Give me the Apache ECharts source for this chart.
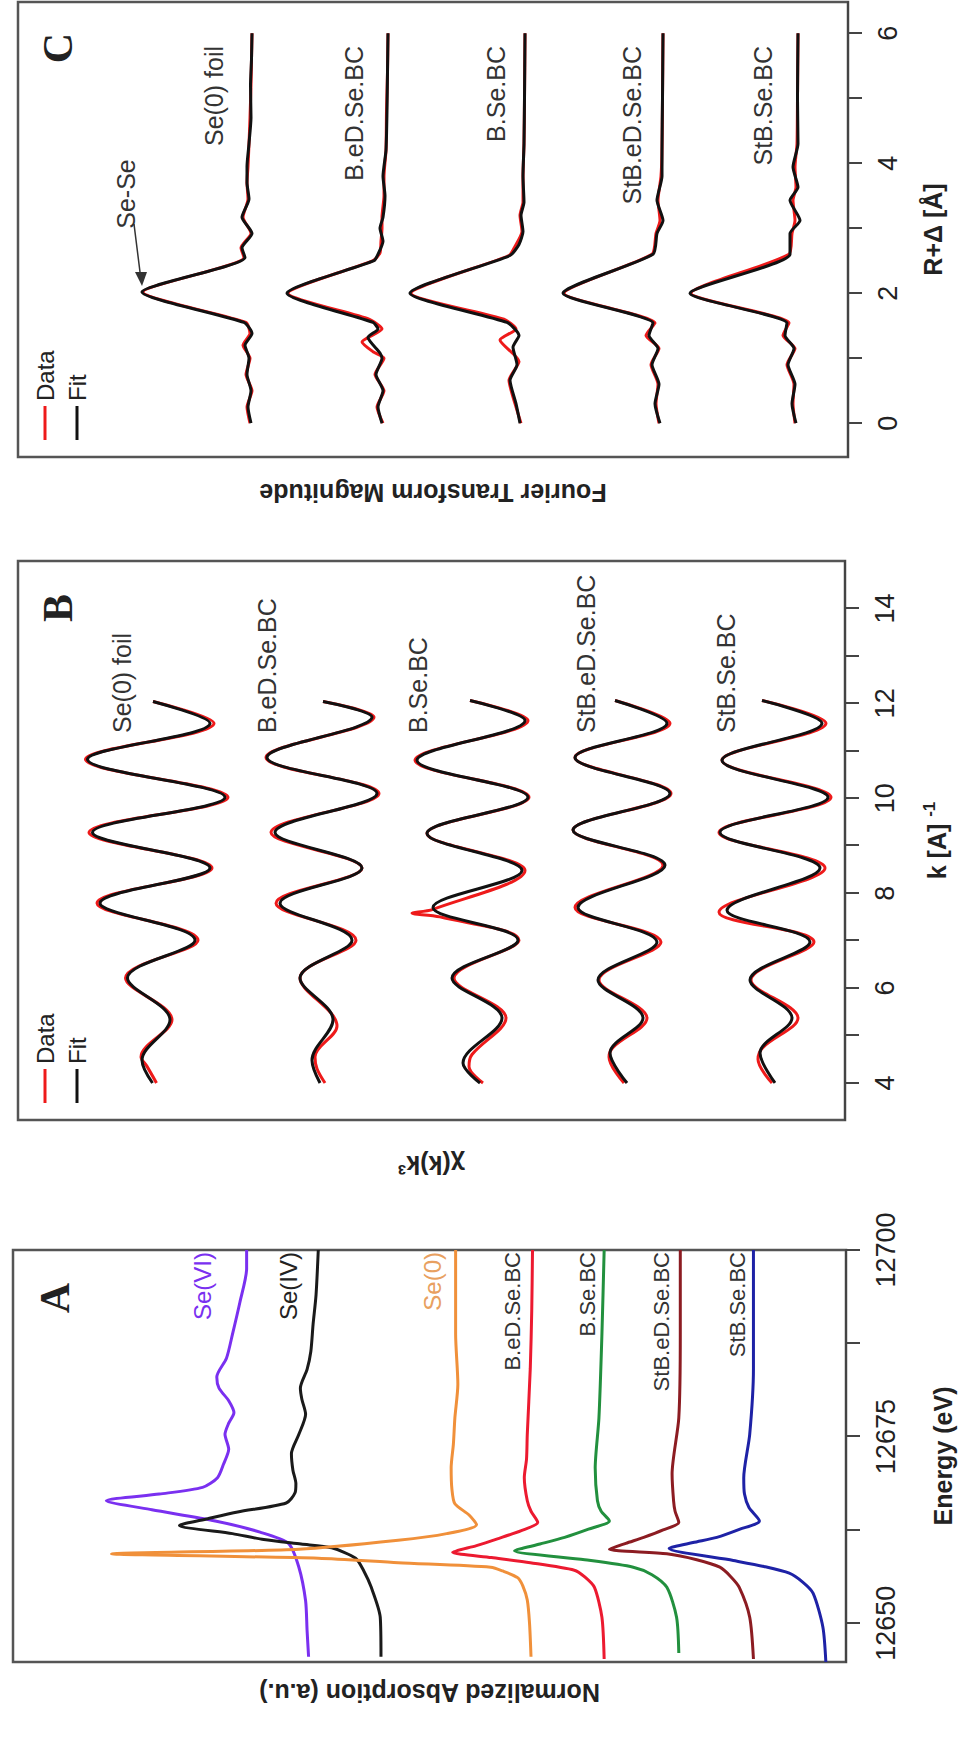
<!DOCTYPE html>
<html><head><meta charset="utf-8">
<script src="https://cdn.jsdelivr.net/npm/echarts@6/dist/echarts.min.js"></script>
<style>
html,body{margin:0;padding:0;background:#fff;width:960px;height:1738px;overflow:hidden;}
#rot{position:absolute;left:0;top:0;width:1738px;height:960px;transform-origin:0 0;transform:translateY(1738px) rotate(-90deg);}
#chart{width:1738px;height:960px;}
</style></head><body>
<div id="rot"><div id="chart"></div></div>
<script>
// ---------- Panel A : XANES ----------
const energyTickValues = [12650, 12662.5, 12675, 12687.5, 12700];
const energyLabelValues = [12650, 12675, 12700];
const xanesNames = ['Se(VI)','Se(IV)','Se(0)','B.eD.Se.BC','B.Se.BC','StB.eD.Se.BC','StB.Se.BC'];
const xanesColors = ['#7a30f0','#1a1a1a','#f0903a','#ec1a30','#22903e','#8c1c22','#1e22a6'];
const xanesSeVI = [[12645.5,7.2],[12649,7.22],[12653,7.24],[12657.5,7.33],[12660.7,7.47],[12662.2,7.85],[12663.7,8.45],[12665.2,9.3],[12666.4,9.91],[12667.3,9.2],[12668.2,8.62],[12669.5,8.42],[12671.3,8.34],[12673.3,8.27],[12675.3,8.32],[12676.8,8.27],[12678.2,8.2],[12679.8,8.27],[12681.5,8.4],[12683,8.43],[12685.5,8.3],[12688.7,8.22],[12693,8.12],[12697.5,8.03],[12700,8.03]];
const xanesSeIV = [[12645.5,6.23],[12650.8,6.24],[12654.8,6.36],[12657,6.46],[12658.7,6.57],[12660.1,6.89],[12660.6,7.3],[12661.2,7.8],[12662,8.22],[12663.1,8.93],[12664,8.55],[12664.9,8.15],[12666.1,7.5],[12667.5,7.38],[12668.7,7.37],[12670.5,7.41],[12672.7,7.43],[12675.3,7.33],[12678,7.24],[12680,7.29],[12681.5,7.31],[12684,7.22],[12686.4,7.17],[12690,7.14],[12694,7.1],[12700,7.07]];
const xanesSe0 = [[12645.5,4.22],[12650,4.24],[12653.1,4.27],[12655,4.33],[12656.1,4.4],[12657,4.6],[12657.5,4.76],[12658.1,6.0],[12658.7,7.07],[12659.3,9.84],[12659.9,7.33],[12661.1,6.0],[12662,5.35],[12663.2,4.95],[12664.5,5.05],[12666,5.24],[12668,5.28],[12670.8,5.29],[12674,5.26],[12677.5,5.24],[12682,5.2],[12688.7,5.23],[12700,5.23]];
const xanesBeD = [[12645.2,3.24],[12650.8,3.27],[12654.8,3.37],[12656.2,3.5],[12657.1,3.64],[12658.1,4.23],[12658.8,4.75],[12659.5,5.27],[12660.4,4.95],[12661.3,4.67],[12662.4,4.35],[12663.5,4.13],[12665,4.22],[12666.4,4.27],[12669.5,4.31],[12672,4.28],[12675.3,4.27],[12684.1,4.23],[12692,4.21],[12700,4.2]];
const xanesBSe = [[12646,2.24],[12650.8,2.27],[12654.8,2.4],[12656.5,2.6],[12657.5,2.85],[12658.5,3.5],[12659.7,4.44],[12660.6,4.1],[12661.5,3.77],[12662.6,3.45],[12663.7,3.17],[12665,3.28],[12666.4,3.33],[12670.8,3.36],[12677.5,3.31],[12688.7,3.27],[12700,3.24]];
const xanesStBeD = [[12645.2,1.24],[12650.8,1.29],[12654.8,1.43],[12656.3,1.55],[12657.5,1.69],[12658.5,2.0],[12659.3,2.4],[12659.9,3.17],[12660.7,2.95],[12661.5,2.71],[12662.5,2.45],[12663.5,2.24],[12665,2.29],[12666.4,2.31],[12670,2.33],[12677.5,2.24],[12688.7,2.22],[12700,2.22]];
const xanesStBSe = [[12644.8,0.27],[12649.5,0.31],[12654,0.44],[12655.5,0.58],[12656.7,0.76],[12657.6,1.1],[12658.4,1.51],[12660,2.37],[12660.8,2.05],[12661.5,1.73],[12662.6,1.42],[12663.7,1.16],[12665.5,1.3],[12667.3,1.36],[12669.5,1.37],[12675.3,1.29],[12684.1,1.24],[12700,1.24]];
const xanesData = [xanesSeVI, xanesSeIV, xanesSe0, xanesBeD, xanesBSe, xanesStBeD, xanesStBSe];

// ---------- Panel B : k-space EXAFS ----------
const kTickValues = [4,5,6,7,8,9,10,11,12,13,14];
const kLabelValues = [4,6,8,10,12,14];
const sampleNames = ['Se(0) foil','B.eD.Se.BC','B.Se.BC','StB.eD.Se.BC','StB.Se.BC'];
const chiOffsets = [138, 104.6, 75, 44.6, 14.8];
const chiFitSe0 = [[4.0,0.5],[4.48,2.6],[5.33,-3.0],[6.21,5.5],[7.01,-8.0],[7.79,11.0],[8.53,-11.0],[9.28,12.5],[10.02,-14.0],[10.82,13.5],[11.58,-11.0],[12.04,0.4]];
const chiDataSe0 = [[4.0,-0.3],[4.35,1.6],[4.55,2.8],[5.33,-3.4],[6.21,5.9],[7.01,-8.6],[7.79,11.6],[8.53,-11.4],[9.28,13.2],[10.02,-14.6],[10.82,13.9],[11.58,-11.8],[12.04,0.4]];
const chiFitBeD = [[4.0,0.4],[4.48,2.0],[5.33,-2.2],[6.21,4.4],[7.01,-6.0],[7.79,8.4],[8.53,-8.0],[9.28,9.4],[10.1,-11.0],[10.86,11.0],[11.71,-10.0],[12.04,-0.2]];
const chiDataBeD = [[4.0,-0.6],[4.3,1.0],[4.55,1.4],[5.2,-3.0],[6.21,4.4],[7.01,-6.8],[7.79,9.2],[8.53,-8.0],[9.28,10.2],[10.1,-11.4],[10.86,11.2],[11.71,-10.4],[12.04,-0.2]];
const chiFitBSe = [[4.0,-2.0],[4.42,1.4],[5.37,-6.4],[6.21,3.6],[7.01,-9.6],[7.7,7.4],[8.48,-10.4],[9.26,8.6],[10.02,-11.6],[10.8,10.6],[11.64,-11.0],[12.06,0.0]];
const chiDataBSe = [[4.0,-2.6],[4.35,0.2],[4.6,-0.4],[5.37,-7.2],[6.21,3.2],[7.01,-9.8],[7.5,6.0],[7.58,11.6],[7.66,7.4],[8.48,-11.0],[9.26,8.6],[10.02,-11.8],[10.8,11.0],[11.64,-11.6],[12.06,0.0]];
const chiFitStBeD = [[4.0,-1.0],[4.63,2.4],[5.37,-4.2],[6.17,4.8],[6.97,-7.0],[7.7,8.8],[8.59,-8.6],[9.33,9.8],[10.1,-9.6],[10.86,9.4],[11.58,-9.0],[12.06,1.4]];
const chiDataStBeD = [[4.0,-0.4],[4.55,2.6],[4.75,1.8],[5.37,-5.0],[6.17,4.6],[6.97,-7.8],[7.7,9.4],[8.59,-8.2],[9.33,9.8],[10.1,-9.8],[10.86,9.4],[11.58,-9.6],[12.06,1.4]];
const chiFitStBSe = [[4.0,-0.8],[4.63,2.2],[5.37,-4.2],[6.17,4.2],[6.97,-7.8],[7.64,8.8],[8.53,-9.8],[9.28,10.2],[10.02,-11.4],[10.8,9.8],[11.58,-10.2],[12.06,1.8]];
const chiDataStBSe = [[4.0,-0.2],[4.5,2.6],[4.75,1.6],[5.37,-5.4],[6.17,4.0],[6.97,-8.6],[7.6,10.4],[8.53,-10.8],[9.28,10.4],[10.02,-12.0],[10.8,9.8],[11.58,-11.0],[12.06,1.8]];
const chiFit = [chiFitSe0, chiFitBeD, chiFitBSe, chiFitStBeD, chiFitStBSe];
const chiData = [chiDataSe0, chiDataBeD, chiDataBSe, chiDataStBeD, chiDataStBSe];

// ---------- Panel C : Fourier transform ----------
const rTickValues = [0,1,2,3,4,5,6];
const rLabelValues = [0,2,4,6];
const ftOffsets = [59.6, 46.0, 32.3, 18.5, 5.0];
const ftFitSe0 = [[0,0.1],[0.25,0.4],[0.5,0.1],[0.75,0.5],[1.0,0.3],[1.2,0.7],[1.38,0.0],[1.55,0.8],[2.02,11.0],[2.55,0.7],[2.7,1.0],[2.92,0.0],[3.17,1.0],[3.45,0.3],[3.7,0.5],[3.95,0.5],[4.3,0.3],[4.7,0.1],[5.2,0.15],[5.6,0.05],[6,0]];
const ftDataSe0 = [[0,0.2],[0.25,0.5],[0.5,0.0],[0.75,0.6],[1.0,0.2],[1.2,0.9],[1.38,0.2],[1.55,0.6],[2.02,10.9],[2.55,0.8],[2.7,1.1],[2.92,0.1],[3.17,0.9],[3.45,0.4],[3.7,0.5],[3.95,0.4],[4.3,0.3],[4.7,0.2],[5.2,0.1],[5.6,0.05],[6,0]];
const ftFitBeD = [[0,0.6],[0.25,1.0],[0.5,0.5],[0.75,1.2],[1.0,0.6],[1.08,0.8],[1.32,2.0],[1.45,1.0],[1.55,1.5],[2.0,10.1],[2.5,1.4],[2.6,1.0],[2.8,0.5],[3.0,0.8],[3.17,0.5],[3.5,0.3],[3.8,0.5],[4.2,0.2],[4.8,0.1],[5.4,0.05],[6,0]];
const ftDataBeD = [[0,0.5],[0.25,1.1],[0.5,0.4],[0.75,1.3],[1.0,0.4],[1.1,1.5],[1.25,2.6],[1.45,0.6],[1.6,1.9],[2.0,10.0],[2.5,1.5],[2.62,0.8],[2.8,0.7],[3.0,0.6],[3.17,0.6],[3.5,0.4],[3.8,0.4],[4.2,0.2],[4.8,0.15],[5.4,0.05],[6,0]];
const ftFitBSe = [[0,0.5],[0.3,0.9],[0.66,1.5],[0.9,0.8],[1.17,1.2],[1.35,0.6],[1.55,1.8],[2.0,11.5],[2.58,1.5],[2.75,0.6],[2.95,0.2],[3.2,0.4],[3.4,0.1],[3.8,0.2],[4.3,0.1],[5.0,0.05],[6,0]];
const ftDataBSe = [[0,0.4],[0.3,1.0],[0.66,1.6],[0.95,0.6],[1.28,2.5],[1.45,0.9],[1.6,2.1],[2.0,11.4],[2.58,1.6],[2.72,1.0],[2.95,0.3],[3.2,0.5],[3.4,0.2],[3.8,0.2],[4.3,0.1],[5.0,0.05],[6,0]];
const ftFitStBeD = [[0,0.3],[0.3,0.8],[0.6,0.4],[0.9,1.1],[1.15,0.5],[1.35,1.4],[1.54,1.0],[2.0,10.0],[2.6,1.0],[2.92,0.6],[3.12,0.0],[3.43,0.6],[3.8,0.1],[4.2,0.1],[5.0,0.05],[6,0]];
const ftDataStBeD = [[0,0.4],[0.3,0.7],[0.6,0.5],[0.9,1.2],[1.15,0.4],[1.35,1.7],[1.54,0.8],[2.0,9.9],[2.6,1.1],[2.92,0.7],[3.12,0.3],[3.43,0.5],[3.8,0.2],[4.2,0.1],[5.0,0.05],[6,0]];
const ftFitStBSe = [[0,0.2],[0.3,0.6],[0.6,0.3],[0.9,1.0],[1.15,0.4],[1.35,1.3],[1.54,1.1],[2.0,10.8],[2.6,0.8],[2.92,0.8],[3.12,-0.2],[3.43,0.8],[3.63,0.0],[3.94,0.5],[4.3,0.0],[5.0,0.05],[6,0]];
const ftDataStBSe = [[0,0.3],[0.3,0.5],[0.6,0.4],[0.9,1.1],[1.15,0.3],[1.35,1.5],[1.54,0.9],[2.0,10.7],[2.6,0.9],[2.92,0.6],[3.12,0.3],[3.43,0.5],[3.63,0.2],[3.94,0.3],[4.3,0.1],[5.0,0.05],[6,0]];
const ftFit = [ftFitSe0, ftFitBeD, ftFitBSe, ftFitStBeD, ftFitStBSe];
const ftData = [ftDataSe0, ftDataBeD, ftDataBSe, ftDataStBeD, ftDataStBSe];

// ---------- build ----------
const FONT = "'Liberation Sans', Arial, Helvetica, sans-serif";
const SERIF = "'Liberation Serif', 'Times New Roman', serif";
const DATA_COLOR = '#ee1a1a', FIT_COLOR = '#111111';
const axisCol = '#444';

function xAxisCfg(gi, min, max, ticks, labels, name, gap, fmt) {
  return {
    type: 'value', gridIndex: gi, min, max, position: 'bottom',
    name, nameLocation: 'middle', nameGap: gap,
    nameTextStyle: {fontFamily: FONT, fontSize: 25, fontWeight: 'bold', color: '#222',
      rich: {b: {fontFamily: FONT, fontSize: 25, fontWeight: 'bold', color: '#222'},
             s: {fontFamily: FONT, fontSize: 17, fontWeight: 'bold', color: '#222', verticalAlign: 'bottom', padding: [0,0,14,0]}}},
    axisLine: {show: true, lineStyle: {color: axisCol, width: 2}},
    axisTick: {show: true, inside: false, length: 14, lineStyle: {color: axisCol, width: 2}, customValues: ticks},
    axisLabel: {show: true, margin: 26, fontFamily: FONT, fontSize: 27, color: '#222', customValues: labels, formatter: fmt || (v => String(v))},
    splitLine: {show: false}, minorTick: {show: false}
  };
}
function yAxisCfg(gi, min, max, name, gap) {
  return {
    type: 'value', gridIndex: gi, min, max,
    name, nameLocation: 'middle', nameGap: gap, nameRotate: 90,
    nameTextStyle: {fontFamily: FONT, fontSize: 25, fontWeight: 'bold', color: '#222'},
    axisLine: {show: false}, axisTick: {show: false}, axisLabel: {show: false}, splitLine: {show: false}
  };
}
function lineSeries(name, data, offset, ai, color, width, smooth) {
  return {
    type: 'line', name, xAxisIndex: ai, yAxisIndex: ai,
    data: data.map(p => [p[0], p[1] + offset]),
    showSymbol: false, symbol: 'none', smooth: smooth, silent: true,
    lineStyle: {color, width}, itemStyle: {color}, animation: false
  };
}

const series = [];
xanesData.forEach((d, i) => series.push(lineSeries(xanesNames[i], d, 0, 0, xanesColors[i], 3, 0.25)));
chiFit.forEach((d, i) => {
  series.push(lineSeries('Data', chiData[i], chiOffsets[i], 1, DATA_COLOR, 3, 0.35));
  series.push(lineSeries('Fit', d, chiOffsets[i], 1, FIT_COLOR, 3, 0.35));
});
ftFit.forEach((d, i) => {
  series.push(lineSeries('Data', ftData[i], ftOffsets[i], 2, DATA_COLOR, 3, 0.2));
  series.push(lineSeries('Fit', d, ftOffsets[i], 2, FIT_COLOR, 3, 0.2));
});

function txt(x, y, text, opts) {
  return Object.assign({type: 'text', x, y, silent: true,
    style: Object.assign({text, fontFamily: FONT, fontSize: 24, fill: '#333', align: 'left', verticalAlign: 'middle'}, opts || {})});
}
const graphics = [
  txt(440, 55, 'A', {fontFamily: SERIF, fontWeight: 'bold', fontSize: 42, fill: '#222', align: 'center'}),
  txt(1130, 58, 'B', {fontFamily: SERIF, fontWeight: 'bold', fontSize: 42, fill: '#222', align: 'center'}),
  txt(1690, 58, 'C', {fontFamily: SERIF, fontWeight: 'bold', fontSize: 42, fill: '#222', align: 'center'}),
  txt(486, 202, 'Se(VI)', {align: 'right', fill: '#7a30f0', fontSize: 24}),
  txt(486, 288, 'Se(IV)', {align: 'right', fill: '#222', fontSize: 24}),
  txt(486, 432, 'Se(0)', {align: 'right', fill: '#e8a060', fontSize: 24}),
  txt(486, 512, 'B.eD.Se.BC', {align: 'right', fontSize: 22}),
  txt(486, 587, 'B.Se.BC', {align: 'right', fontSize: 22}),
  txt(486, 661, 'StB.eD.Se.BC', {align: 'right', fontSize: 22}),
  txt(486, 737, 'StB.Se.BC', {align: 'right', fontSize: 22}),
  txt(1005, 122, 'Se(0) foil', {fontSize: 25}),
  txt(1005, 267, 'B.eD.Se.BC', {fontSize: 25}),
  txt(1005, 418, 'B.Se.BC', {fontSize: 25}),
  txt(1005, 586, 'StB.eD.Se.BC', {fontSize: 25}),
  txt(1005, 726, 'StB.Se.BC', {fontSize: 25}),
  txt(1692, 214, 'Se(0) foil', {align: 'right', fontSize: 25}),
  txt(1692, 354, 'B.eD.Se.BC', {align: 'right', fontSize: 25}),
  txt(1692, 496, 'B.Se.BC', {align: 'right', fontSize: 25}),
  txt(1692, 632, 'StB.eD.Se.BC', {align: 'right', fontSize: 25}),
  txt(1692, 763, 'StB.Se.BC', {align: 'right', fontSize: 25}),
  txt(1544, 126, 'Se-Se', {align: 'center', fontSize: 25}),
  {type: 'line', silent: true, shape: {x1: 1514, y1: 134, x2: 1458, y2: 141}, style: {stroke: '#333', lineWidth: 1.5}},
  {type: 'polygon', silent: true, shape: {points: [[1452, 142], [1466, 135], [1466, 147]]}, style: {fill: '#333'}}
];

const option = {
  backgroundColor: '#fff',
  animation: false,
  grid: [
    {left: 76, top: 13, width: 412, height: 837, show: true, borderColor: '#555', borderWidth: 2.5, backgroundColor: 'transparent'},
    {left: 618, top: 18, width: 559, height: 827, show: true, borderColor: '#555', borderWidth: 2.5, backgroundColor: 'transparent'},
    {left: 1281, top: 18, width: 455, height: 830, show: true, borderColor: '#555', borderWidth: 2.5, backgroundColor: 'transparent'}
  ],
  xAxis: [
    xAxisCfg(0, 12644.8, 12700, energyTickValues, energyLabelValues, 'Energy (eV)', 84),
    xAxisCfg(1, 3.22, 15, kTickValues, kLabelValues, '{b|k [A]} {s|-1}', 76),
    xAxisCfg(2, -0.52, 6.48, rTickValues, rLabelValues, 'R+Δ [Å]', 72)
  ],
  yAxis: [
    yAxisCfg(0, 0, 11.16, 'Normalized Absorption (a.u.)', 18),
    yAxisCfg(1, 0, 165.4, 'χ(k)k³', 32),
    yAxisCfg(2, 0, 83, 'Fourier Transform Magnitude', 23)
  ],
  legend: [
    {left: 630, top: 28, orient: 'vertical', itemGap: 8, itemWidth: 34, itemHeight: 3, icon: 'rect',
     data: ['Data', 'Fit'], textStyle: {fontFamily: FONT, fontSize: 24, color: '#222'}, selectedMode: false},
    {left: 1293, top: 28, orient: 'vertical', itemGap: 8, itemWidth: 34, itemHeight: 3, icon: 'rect',
     data: ['Data', 'Fit'], textStyle: {fontFamily: FONT, fontSize: 24, color: '#222'}, selectedMode: false}
  ],
  series,
  graphic: graphics
};

const chart = echarts.init(document.getElementById('chart'), null, {renderer: 'svg', width: 1738, height: 960});
chart.setOption(option);
</script></body></html>
